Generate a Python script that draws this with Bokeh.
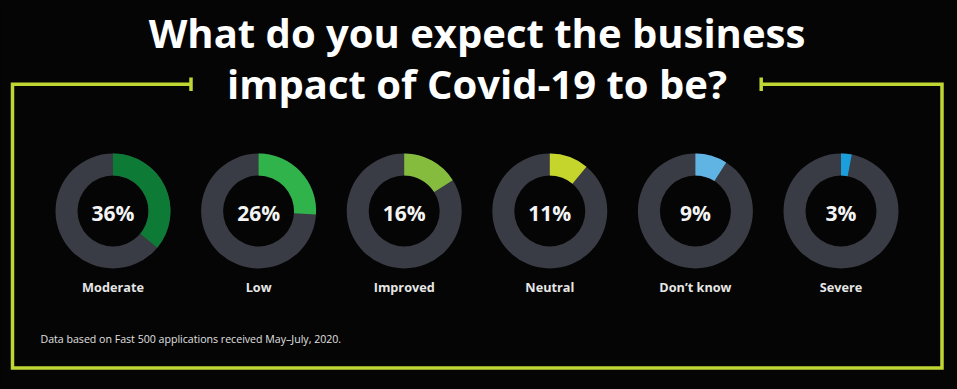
import re
import numpy as np
from bokeh.plotting import figure
from bokeh.models import Range1d, ColumnDataSource
from bokeh.core.properties import value
from bokeh.embed import file_html
from bokeh.resources import INLINE

# ---- data ----
categories = ["Moderate", "Low", "Improved", "Neutral", "Don\u2019t know", "Severe"]
percent = [36, 26, 16, 11, 9, 3]
colors = ["#0d7a35", "#2fb34a", "#86bc3d", "#c5d52b", "#5fb4e4", "#1b9fdc"]
title_lines = ["What do you expect the business", "impact of Covid-19 to be?"]
footnote = "Data based on Fast 500 applications received May\u2013July, 2020."

W, H = 957, 389
BG = "#050505"
RING = "#393c44"
FRAME = "#bfd633"

p = figure(width=W, height=H, output_backend="svg", toolbar_location=None,
           x_range=Range1d(0, W), y_range=Range1d(H, 0),
           x_axis_location=None, y_axis_location=None, min_border=0,
           background_fill_color=BG, border_fill_color=BG, outline_line_color=None)
p.grid.visible = False

# layout
x0, step, cy = 112.5, 145.6, 210.5
r_out, r_in = 57.5, 35.5
xs = x0 + step * np.arange(len(categories))
vals = np.array(percent, dtype=float)
start = np.full(len(vals), np.pi / 2)
end = np.pi / 2 - 2 * np.pi * vals / 100.0

src = ColumnDataSource(dict(
    x=xs, y=np.full(len(xs), cy), start=start, end=end, color=colors,
    label=categories, pct=[f"{v}%" for v in percent],
    py=np.full(len(xs), cy + 1.5),
    ly=np.full(len(xs), cy + 76.0),
))

# gray ring
p.annulus(x="x", y="y", inner_radius=r_in, outer_radius=r_out, source=src,
          fill_color=RING, line_color=None)
# colored share
p.annular_wedge(x="x", y="y", inner_radius=r_in, outer_radius=r_out,
                start_angle="start", end_angle="end", direction="clock",
                fill_color="color", line_color=None, source=src)

p.text(x="x", y="py", text="pct", source=src, text_color="#f4f4f4",
       text_font=value("Open Sans"), text_font_style="bold",
       text_font_size="21px", text_align="center", text_baseline="middle")
p.text(x="x", y="ly", text="label", source=src, text_color="#e6e6e6",
       text_font=value("Open Sans"), text_font_style="bold",
       text_font_size="12.7px", text_align="center", text_baseline="middle")

# title
p.text(x=[476.5, 476.5], y=[31.5, 83], text=title_lines, text_color="#ffffff",
       text_font=value("Open Sans"), text_font_style="bold",
       text_font_size="40px", text_align="center", text_baseline="alphabetic")

# footnote
p.text(x=[40], y=[338], text=[footnote], text_color="#e0e0e0",
       text_font=value("Open Sans"), text_font_size="10.6px",
       text_align="left", text_baseline="middle")

# frame
fx = [190.5, 12, 12, 941.5, 941.5, 760.7]
fy = [83.8, 83.8, 367.5, 367.5, 83.8, 83.8]
p.line(fx, fy, line_color=FRAME, line_width=3.5, line_join="miter")
p.segment(x0=[190.5, 760.7], y0=[77, 77], x1=[190.5, 760.7], y1=[90.5, 90.5],
          line_color=FRAME, line_width=3.5)

html = file_html(p, INLINE)
html = html.replace("</head>", f"<style>html,body{{background-color:{BG};}}</style></head>", 1)
html = re.sub(r"<body[^>]*>", f'<body style="background-color:{BG};">', html, count=1)
open("out.html", "w").write(html)
